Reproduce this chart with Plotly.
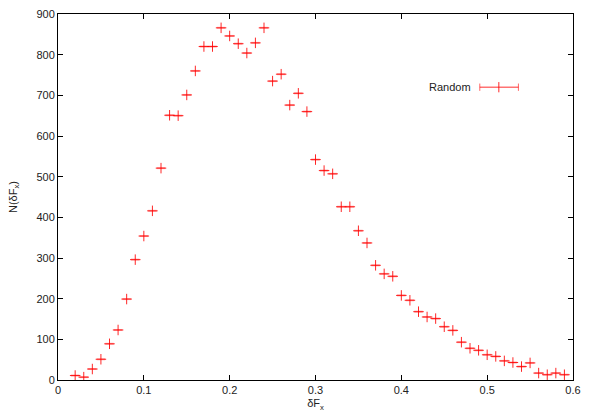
import plotly.graph_objects as go

# Histogram of the x-force deviation, one count per 0.01 bin
DF_X = [0.02, 0.03, 0.04, 0.05, 0.06, 0.07, 0.08, 0.09, 0.10, 0.11,
        0.12, 0.13, 0.14, 0.15, 0.16, 0.17, 0.18, 0.19, 0.20, 0.21,
        0.22, 0.23, 0.24, 0.25, 0.26, 0.27, 0.28, 0.29, 0.30, 0.31,
        0.32, 0.33, 0.34, 0.35, 0.36, 0.37, 0.38, 0.39, 0.40, 0.41,
        0.42, 0.43, 0.44, 0.45, 0.46, 0.47, 0.48, 0.49, 0.50, 0.51,
        0.52, 0.53, 0.54, 0.55, 0.56, 0.57, 0.58, 0.59]
COUNTS = [11, 7, 27, 51, 89, 123, 199, 296, 354, 416,
          521, 651, 650, 701, 760, 820, 820, 866, 846, 827,
          804, 829, 866, 735, 752, 676, 705, 660, 542, 515,
          507, 426, 426, 367, 337, 282, 261, 255, 208, 196,
          168, 155, 151, 131, 122, 93, 78, 73, 62, 58,
          47, 43, 33, 42, 17, 13, 17, 13]
X_ERR = [0.005] * len(DF_X)

X_TICKS = [0, 0.1, 0.2, 0.3, 0.4, 0.5, 0.6]
X_TICK_TEXT = ["0", "0.1", "0.2", "0.3", "0.4", "0.5", "0.6"]
Y_TICKS = [0, 100, 200, 300, 400, 500, 600, 700, 800, 900]

RED = "rgba(255,0,0,0.85)"
INK = "#000000"
FONT = dict(family="Liberation Sans, Arial, sans-serif", size=11, color="#222222")

fig = go.Figure()
fig.add_trace(
    go.Scatter(
        x=DF_X, y=COUNTS, mode="markers", name="Random", showlegend=False,
        marker=dict(symbol="cross-thin", size=7.5, line=dict(color=RED, width=1)),
        error_x=dict(type="data", array=X_ERR, color="rgba(255,0,0,0.35)",
                     thickness=2, width=0),
    )
)

# gnuplot-style key: label on the left, sample (errorbar + point) on the right
KEY_Y = 0.8
fig.add_annotation(
    x=0.806, y=KEY_Y, xref="paper", yref="paper", text="Random",
    showarrow=False, xanchor="right", yanchor="middle", font=FONT,
)
fig.add_shape(type="line", xref="paper", yref="paper",
              x0=0.819, x1=0.894, y0=KEY_Y, y1=KEY_Y,
              line=dict(color="rgba(255,0,0,0.55)", width=1.5))
for xc in (0.819, 0.894):
    fig.add_shape(type="line", xref="paper", yref="paper",
                  x0=xc, x1=xc, y0=KEY_Y - 0.01, y1=KEY_Y + 0.01,
                  line=dict(color="rgba(255,0,0,0.6)", width=1))
fig.add_shape(type="line", xref="paper", yref="paper",
              x0=0.856, x1=0.856, y0=KEY_Y - 0.014, y1=KEY_Y + 0.014,
              line=dict(color=RED, width=1))

fig.update_layout(
    template="none",
    width=593, height=415,
    margin=dict(l=58, r=20, t=14, b=35),
    plot_bgcolor="white", paper_bgcolor="white",
    font=FONT,
    showlegend=False,
)
fig.update_xaxes(
    range=[0, 0.6], tickvals=X_TICKS, ticktext=X_TICK_TEXT, automargin=False,
    showgrid=False, zeroline=False, showline=True, linecolor=INK, linewidth=1,
    mirror="ticks", ticks="inside", ticklen=5, tickcolor=INK,
    title=dict(text="δF<sub>x</sub>", standoff=4, font=FONT),
)
fig.update_yaxes(
    range=[0, 900], tickvals=Y_TICKS, automargin=False,
    showgrid=False, zeroline=False, showline=True, linecolor=INK, linewidth=1,
    mirror="ticks", ticks="inside", ticklen=5, tickcolor=INK,
    title=dict(text="N(δF<sub>x</sub>)", standoff=16, font=FONT),
)

# drop the browser's default body margin so the figure sits at the page corner
fig.write_html(
    "out.html",
    config={"displayModeBar": False},
    post_script="document.body.style.margin='0';",
)
